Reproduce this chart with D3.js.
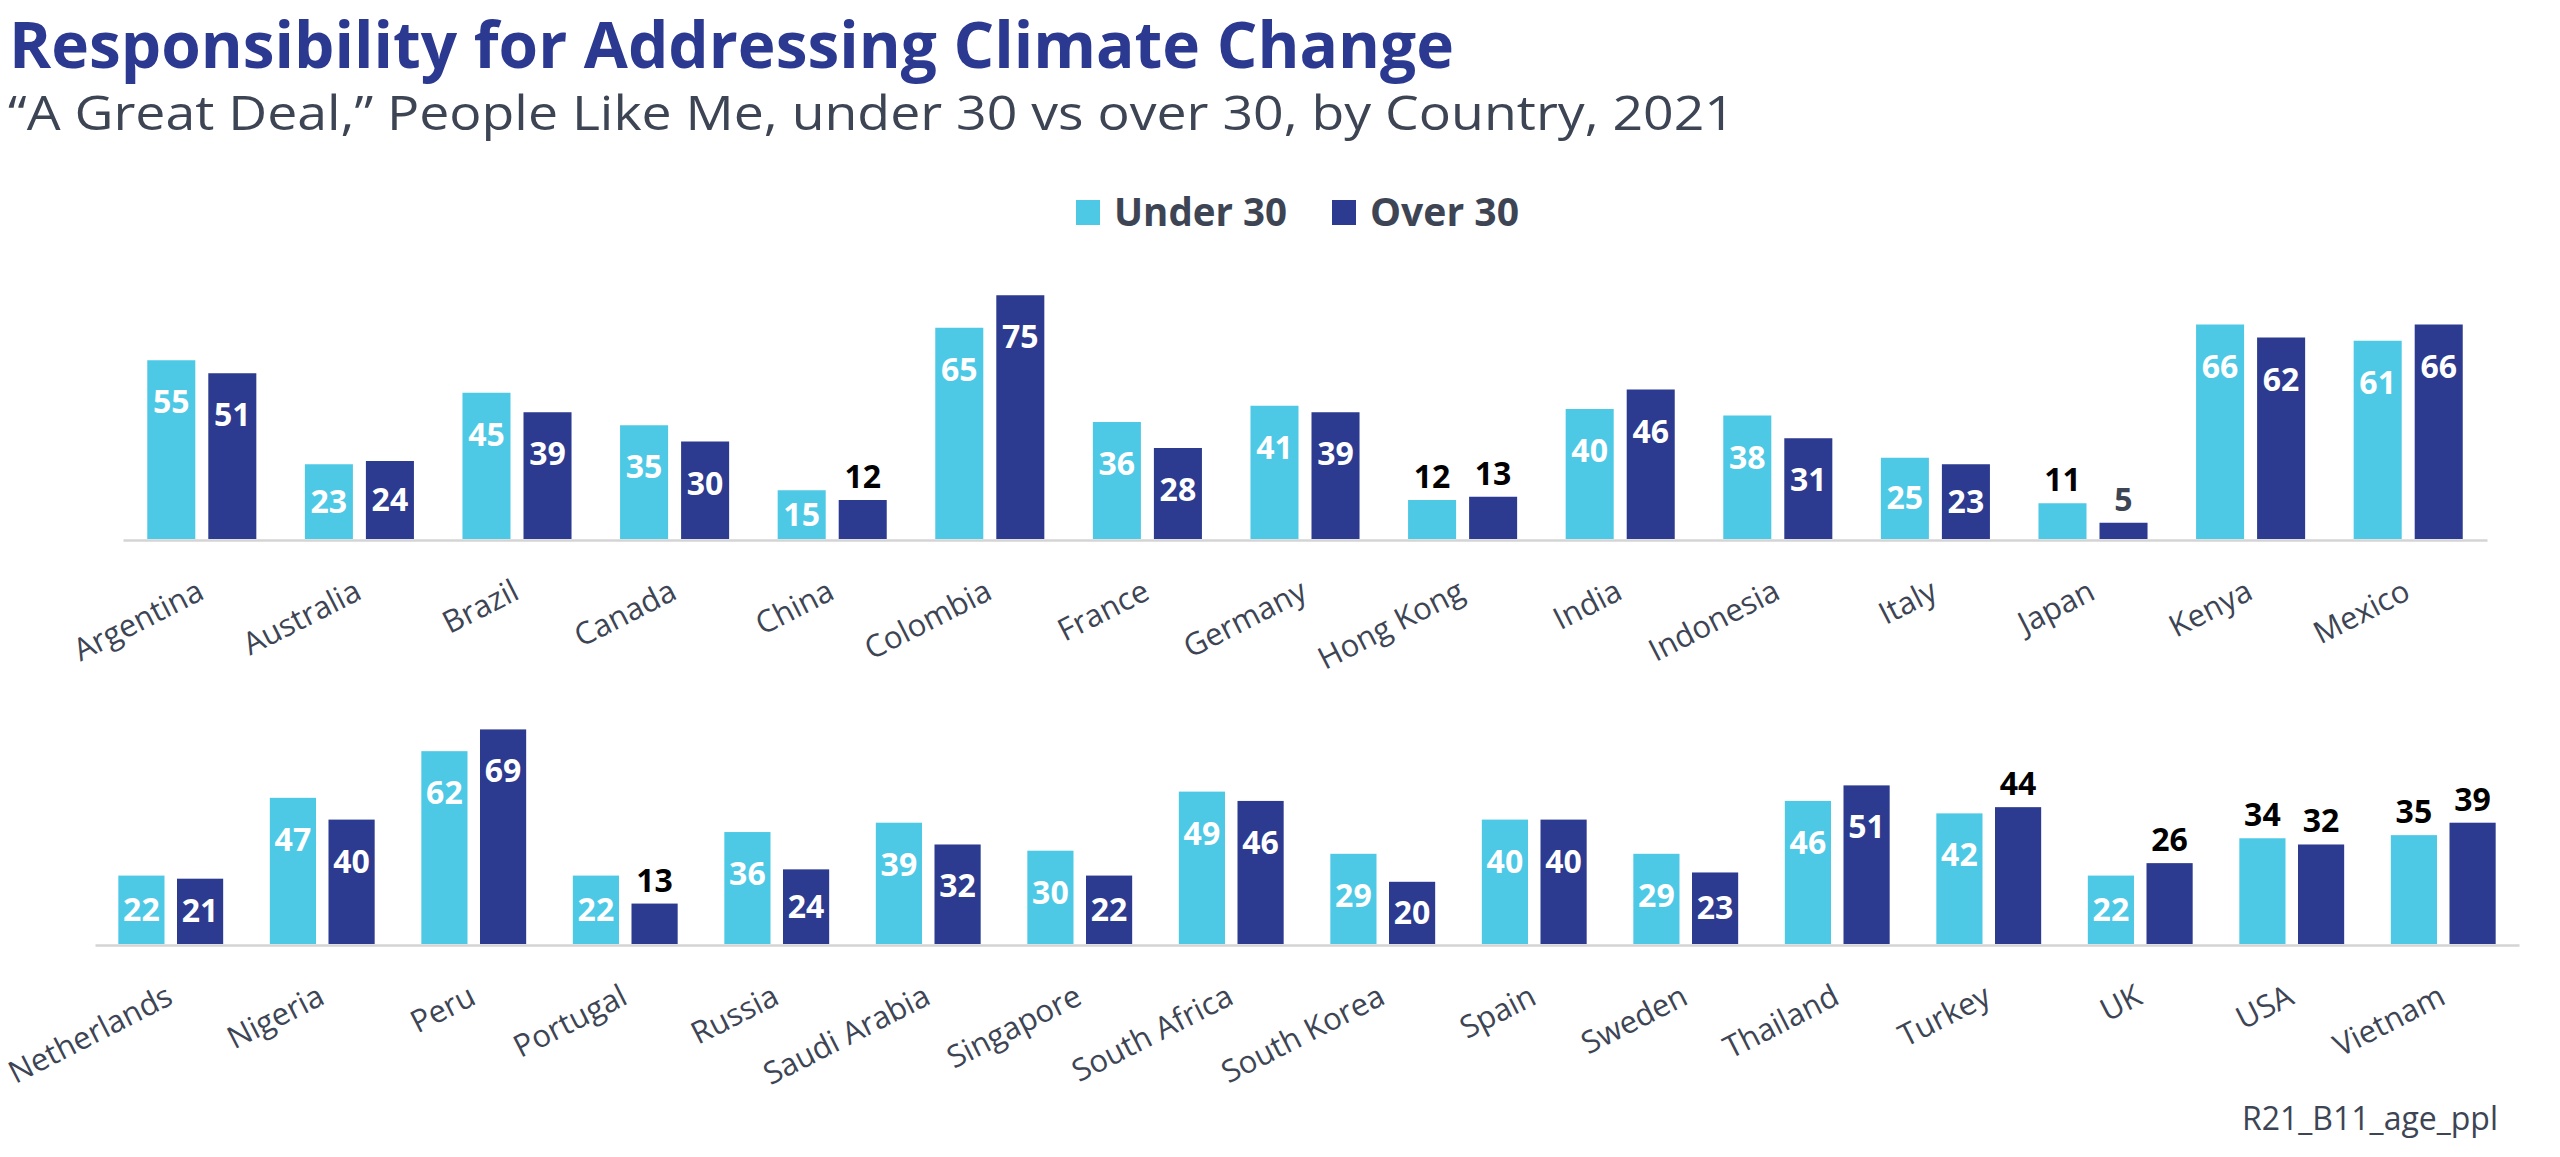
<!DOCTYPE html>
<html>
<head>
<meta charset="utf-8">
<script src="https://cdn.jsdelivr.net/npm/d3@7"></script>
<style>
  body { margin: 0; background: #fff; }
  svg { display: block; font-family: "Open Sans", "Noto Sans", sans-serif; }
</style>
</head>
<body>
<svg id="chart" width="2560" height="1157"></svg>
<script>
// data
const seriesNames = ['Under 30', 'Over 30'];

const countriesTop = ['Argentina', 'Australia', 'Brazil', 'Canada', 'China', 'Colombia', 'France',
  'Germany', 'Hong Kong', 'India', 'Indonesia', 'Italy', 'Japan', 'Kenya', 'Mexico'];
const under30Top = [55, 23, 45, 35, 15, 65, 36, 41, 12, 40, 38, 25, 11, 66, 61];
const over30Top  = [51, 24, 39, 30, 12, 75, 28, 39, 13, 46, 31, 23, 5, 62, 66];

const countriesBottom = ['Netherlands', 'Nigeria', 'Peru', 'Portugal', 'Russia', 'Saudi Arabia',
  'Singapore', 'South Africa', 'South Korea', 'Spain', 'Sweden', 'Thailand', 'Turkey', 'UK', 'USA', 'Vietnam'];
const under30Bottom = [22, 47, 62, 22, 36, 39, 30, 49, 29, 40, 29, 46, 42, 22, 34, 35];
const over30Bottom  = [21, 40, 69, 13, 24, 32, 22, 46, 20, 40, 23, 51, 44, 26, 32, 39];

// labels that sit above the bar instead of inside it
const outsideLabels = ['China|Over 30', 'Hong Kong|Under 30', 'Hong Kong|Over 30', 'Japan|Under 30',
  'Japan|Over 30', 'Portugal|Over 30', 'Turkey|Over 30', 'UK|Over 30', 'USA|Under 30', 'USA|Over 30',
  'Vietnam|Under 30', 'Vietnam|Over 30'];
const greyLabels = ['Japan|Over 30'];

const colors = { 'Under 30': '#4dc9e6', 'Over 30': '#2c3a8f' };
const slate = '#3d4555';

const svg = d3.select('#chart');

// titles
svg.append('text')
  .attr('x', 9).attr('y', 68)
  .attr('font-size', 64).attr('font-weight', 700)
  .attr('fill', '#2b3990')
  .attr('textLength', 1445).attr('lengthAdjust', 'spacingAndGlyphs')
  .text('Responsibility for Addressing Climate Change');

svg.append('text')
  .attr('x', 8).attr('y', 130)
  .attr('font-size', 47)
  .attr('fill', slate)
  .attr('textLength', 1727).attr('lengthAdjust', 'spacingAndGlyphs')
  .text('\u201CA Great Deal,\u201D People Like Me, under 30 vs over 30, by Country, 2021');

// legend
const legend = svg.append('g');
const legendX = [1076, 1332], legendW = [173, 149];
seriesNames.forEach((s, i) => {
  legend.append('rect')
    .attr('x', legendX[i]).attr('y', 200).attr('width', 24).attr('height', 25)
    .attr('fill', colors[s]);
  legend.append('text')
    .attr('x', legendX[i] + 38).attr('y', 226)
    .attr('font-size', 40).attr('font-weight', 700).attr('fill', slate)
    .attr('textLength', legendW[i]).attr('lengthAdjust', 'spacingAndGlyphs')
    .text(s);
});

function drawPanel(countries, under, over, left, right, base, pxPerUnit){
  const rows = countries.map((c, i) => ({ country: c, 'Under 30': under[i], 'Over 30': over[i] }));

  const x0 = d3.scaleBand().domain(countries).range([left, right])
    .paddingInner(0.308).paddingOuter(0.154);
  const x1 = d3.scaleBand().domain(seriesNames).range([0, x0.bandwidth()]).paddingInner(0.213);
  const y = d3.scaleLinear().domain([0, 80]).range([base, base - 80 * pxPerUnit]);

  const g = svg.append('g');

  const groups = g.selectAll('.grp').data(rows).enter().append('g')
    .attr('transform', d => `translate(${x0(d.country)},0)`);

  const cells = groups.selectAll('.cell')
    .data(d => seriesNames.map(s => ({ country: d.country, series: s, value: d[s] })))
    .enter();

  cells.append('rect')
    .attr('x', d => x1(d.series))
    .attr('y', d => y(d.value))
    .attr('width', x1.bandwidth())
    .attr('height', d => y(0) - y(d.value))
    .attr('fill', d => colors[d.series]);

  cells.append('text')
    .attr('x', d => x1(d.series) + x1.bandwidth() / 2)
    .attr('y', d => {
      const top = y(d.value);
      if (outsideLabels.includes(d.country + '|' + d.series)) return top - 12;
      return Math.min(top + 42, (top + y(0)) / 2) + 11;
    })
    .attr('text-anchor', 'middle')
    .attr('font-size', 32).attr('font-weight', 700)
    .attr('fill', d => {
      const k = d.country + '|' + d.series;
      if (greyLabels.includes(k)) return slate;
      return outsideLabels.includes(k) ? '#000' : '#fff';
    })
    .text(d => d.value);

  // category axis
  const ax = g.append('g')
    .attr('transform', `translate(0,${base + 1})`)
    .call(d3.axisBottom(x0).tickSize(0).tickSizeOuter(0));
  ax.select('.domain').attr('stroke', '#d4d4d4').attr('stroke-width', 2.5);
  ax.selectAll('.tick text')
    .attr('x', 0).attr('y', 0).attr('dy', 0)
    .attr('text-anchor', 'end')
    .attr('transform', 'translate(4,58) rotate(-27)')
    .attr('font-family', '"Open Sans", "Noto Sans", sans-serif')
    .attr('font-size', 31)
    .attr('fill', slate);
}

drawPanel(countriesTop, under30Top, over30Top, 123, 2487, 539, 3.25);
drawPanel(countriesBottom, under30Bottom, over30Bottom, 95, 2519, 944, 3.11);

// source tag
svg.append('text')
  .attr('x', 2498).attr('y', 1130)
  .attr('text-anchor', 'end')
  .attr('font-size', 32).attr('fill', slate)
  .text('R21_B11_age_ppl');
</script>
</body>
</html>
